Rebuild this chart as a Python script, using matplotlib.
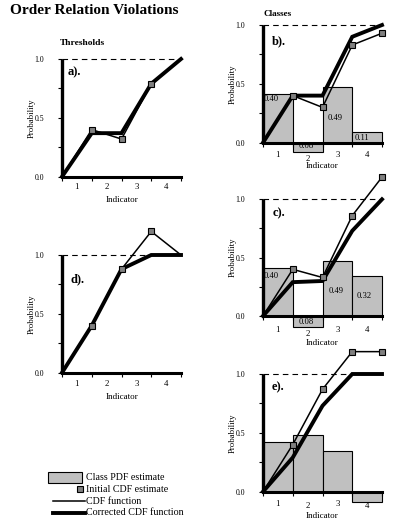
import matplotlib
matplotlib.use('Agg')
import matplotlib.pyplot as plt
from matplotlib.patches import Rectangle
from matplotlib.lines import Line2D

plt.rcParams['font.family'] = ['Liberation Serif', 'DejaVu Serif']

# thresholds and class labels
thresholds = [0, 1, 2, 3, 4]
class_left = [0, 1, 2, 3]
indicator_labels = ['1', '2', '3', '4']

# a) thresholds
a_initial = [0, 0.40, 0.32, 0.79, 1.0]
a_corrected = [0, 0.37, 0.37, 0.79, 1.0]

# b) classes
b_pdf = [0.41, -0.08, 0.47, 0.09]
b_pdf_labels = ['0.40', '0.08', '0.49', '0.11']
b_initial = [0, 0.40, 0.30, 0.83, 0.93]
b_corrected = [0, 0.40, 0.40, 0.90, 1.0]

# c) classes
c_pdf = [0.41, -0.09, 0.47, 0.34]
c_pdf_labels = ['0.40', '0.08', '0.49', '0.32']
c_initial = [0, 0.40, 0.33, 0.86, 1.19]
c_corrected = [0, 0.29, 0.30, 0.73, 1.0]

# d) thresholds
d_initial = [0, 0.40, 0.88, 1.20, 1.0]
d_corrected = [0, 0.40, 0.88, 1.0, 1.0]

# e) classes
e_pdf = [0.42, 0.48, 0.35, -0.09]
e_initial = [0, 0.40, 0.87, 1.19, 1.19]
e_corrected = [0, 0.29, 0.73, 1.0, 1.0]

W, H = 399, 528
fig = plt.figure(figsize=(W / 100, H / 100), dpi=100)

BAR = '#c0c0c0'
MARK = '#808080'


def make_axes(x0, y1, y0):
    # x0: pixel of x=0, y1: pixel of y=1.0, y0: pixel of y=0.0
    ax = fig.add_axes([x0 / W, 1 - y0 / H, 119 / W, (y0 - y1) / H])
    ax.set_xlim(0, 4)
    ax.set_ylim(0, 1)
    ax.patch.set_visible(False)
    for s in ['top', 'right']:
        ax.spines[s].set_visible(False)
    ax.spines['left'].set_linewidth(2.4)
    ax.spines['bottom'].set_linewidth(2.2)
    ax.spines['left'].set_capstyle('butt')
    ax.set_yticks([0, 0.5, 1.0])
    ax.set_yticklabels(['0.0', '0.5', '1.0'])
    ax.set_yticks([0.25, 0.75], minor=True)
    ax.set_xticks(thresholds)
    ax.set_xticklabels([])
    ax.tick_params(axis='y', which='both', length=3.2, width=0.8, pad=9.5, labelsize=5.6)
    ax.tick_params(axis='x', length=3, width=0.8)
    ax.plot([0, 4], [1, 1], color='black', lw=0.8, ls=(0, (5, 3.7)), clip_on=False)
    ax.text(-0.255, 0.5, 'Probability', transform=ax.transAxes, rotation=90,
            ha='center', va='center', fontsize=6.3)
    return ax


def draw_lines(ax, initial, corrected, marked):
    ax.plot(thresholds, corrected, color='black', lw=2.8, clip_on=False, zorder=3,
            solid_joinstyle='miter')
    ax.plot(thresholds, initial, color='black', lw=1.1, clip_on=False, zorder=4,
            marker='s', markevery=marked, markersize=4.3, markerfacecolor=MARK,
            markeredgecolor='black', markeredgewidth=0.8)


def draw_bars(ax, pdf):
    ax.bar(class_left, pdf, width=1, align='edge', color=BAR, edgecolor='black',
           linewidth=0.8, clip_on=False, zorder=1)


def x_labels(ax, ylab, y2, yind, y4=None):
    for i, lab in enumerate(indicator_labels):
        y = ylab
        if i == 1:
            y = y2
        if i == 3 and y4 is not None:
            y = y4
        ax.text(i + 0.5, y, lab, ha='center', va='center', fontsize=6.3, clip_on=False)
    ax.text(2, yind, 'Indicator', ha='center', va='center', fontsize=6.5)


# a)
ax = make_axes(62, 59, 176.7)
draw_lines(ax, a_initial, a_corrected, [1, 2, 3])
x_labels(ax, -0.09, -0.09, -0.2)
ax.text(0.2, 0.89, 'a).', fontsize=9, fontweight='bold', va='center')
ax.text(-0.02, 1.135, 'Thresholds', transform=ax.transAxes, fontsize=6.8,
        fontweight='bold', va='center')

# b)
ax = make_axes(263, 25, 142.7)
draw_bars(ax, b_pdf)
draw_lines(ax, b_initial, b_corrected, [1, 2, 3, 4])
x_labels(ax, -0.105, -0.14, -0.2)
ax.text(0.29, 0.865, 'b).', fontsize=9, fontweight='bold', va='center')
ax.text(0, 1.095, 'Classes', transform=ax.transAxes, fontsize=6.6,
        fontweight='bold', va='center')
ax.text(0.02, 0.37, b_pdf_labels[0], fontsize=6.2, va='center', ha='left')
ax.text(1.45, -0.03, b_pdf_labels[1], fontsize=6.2, va='center', ha='center')
ax.text(2.44, 0.21, b_pdf_labels[2], fontsize=6.2, va='center', ha='center')
ax.text(3.34, 0.04, b_pdf_labels[3], fontsize=6.2, va='center', ha='center')

# c)
ax = make_axes(263, 199.3, 316)
draw_bars(ax, c_pdf)
draw_lines(ax, c_initial, c_corrected, [1, 2, 3, 4])
x_labels(ax, -0.12, -0.15, -0.23)
ax.text(0.33, 0.88, 'c).', fontsize=9, fontweight='bold', va='center')
ax.text(0.02, 0.34, c_pdf_labels[0], fontsize=6.2, va='center', ha='left')
ax.text(1.45, -0.055, c_pdf_labels[1], fontsize=6.2, va='center', ha='center')
ax.text(2.45, 0.21, c_pdf_labels[2], fontsize=6.2, va='center', ha='center')
ax.text(3.41, 0.17, c_pdf_labels[3], fontsize=6.2, va='center', ha='center')

# d)
ax = make_axes(62, 255, 372.7)
draw_lines(ax, d_initial, d_corrected, [1, 2, 3])
x_labels(ax, -0.1, -0.1, -0.205)
ax.text(0.3, 0.79, 'd).', fontsize=9, fontweight='bold', va='center')

# e)
ax = make_axes(263, 374, 491.7)
draw_bars(ax, e_pdf)
draw_lines(ax, e_initial, e_corrected, [1, 2, 3, 4])
x_labels(ax, -0.105, -0.125, -0.21, -0.125)
ax.text(0.3, 0.89, 'e).', fontsize=9, fontweight='bold', va='center')

# title
fig.text(10 / W, 1 - 11 / H, 'Order Relation Violations', fontsize=11,
         fontweight='bold', va='center', ha='left')

# legend, drawn on an overlay in pixel units
lax = fig.add_axes([0, 0, 1, 1])
lax.set_xlim(0, W)
lax.set_ylim(H, 0)
lax.axis('off')
legend_rows = [477, 489, 501, 512.5]
legend_text = ['Class PDF estimate', 'Initial CDF estimate', 'CDF function',
               'Corrected CDF function']
lax.add_patch(Rectangle((48, legend_rows[0] - 5.5), 34, 11, facecolor=BAR,
                        edgecolor='black', linewidth=0.8))
lax.add_line(Line2D([79.5], [legend_rows[1]], marker='s', markersize=4.3,
                    markerfacecolor=MARK, markeredgecolor='black', markeredgewidth=0.8))
lax.add_line(Line2D([52.5, 85], [legend_rows[2]] * 2, color='black', lw=1.1))
lax.add_line(Line2D([52.5, 85], [legend_rows[3]] * 2, color='black', lw=2.8))
for y, t in zip(legend_rows, legend_text):
    lax.text(86, y, t, fontsize=7.2, va='center', ha='left')

fig.savefig('out.png', dpi=100)
